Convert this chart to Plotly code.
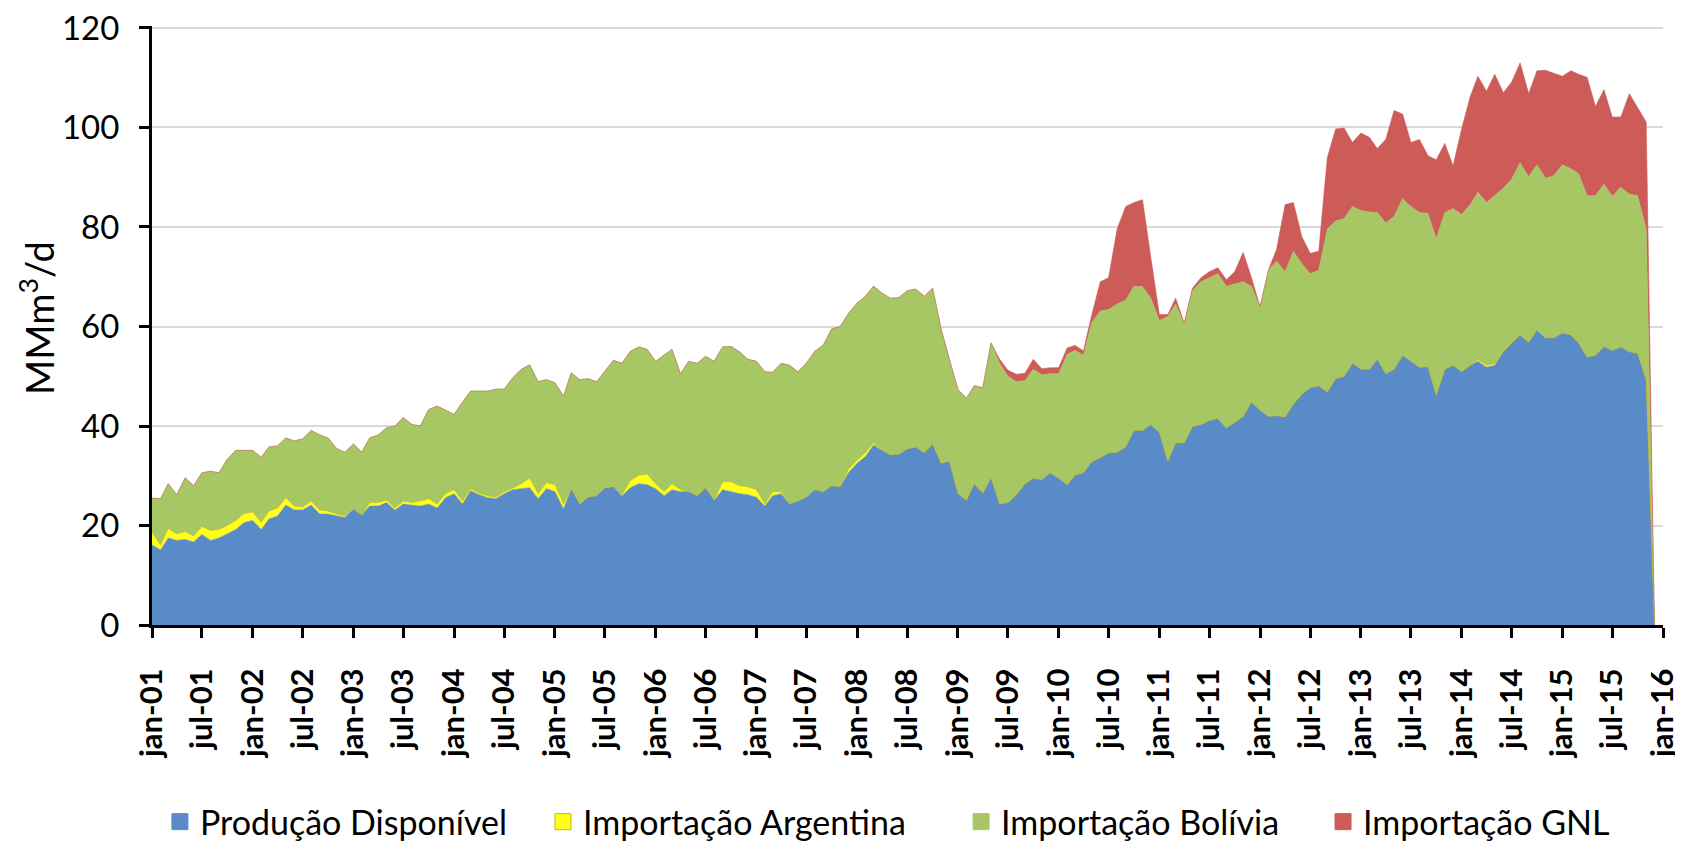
import pandas as pd
import plotly.graph_objects as go

# Monthly data, jan-01 .. dez-15 (MMm3/d)
MONTHS = pd.date_range("2001-01-01", periods=180, freq="MS")

PRODUCAO = [
    16.1, 15.1, 17.5, 17.0, 17.2, 16.7, 18.2, 17.0, 17.5, 18.3,
    19.2, 20.6, 21.0, 19.2, 21.3, 21.9, 24.1, 23.1, 23.1, 24.1,
    22.3, 22.3, 21.9, 21.6, 23.3, 22.1, 23.9, 23.9, 24.6, 23.1,
    24.3, 24.1, 23.9, 24.3, 23.5, 25.6, 26.4, 24.3, 27.0, 26.2,
    25.6, 25.4, 26.4, 27.2, 27.4, 27.6, 25.4, 27.4, 26.8, 23.3,
    27.4, 24.3, 25.7, 26.0, 27.6, 27.8, 26.0, 27.6, 28.4, 28.2,
    27.4, 26.0, 27.2, 26.8, 26.8, 26.0, 27.6, 25.1, 27.2, 26.8,
    26.4, 26.2, 25.7, 23.9, 26.0, 26.4, 24.3, 24.9, 25.7, 27.2,
    26.8, 28.0, 27.8, 30.6, 32.5, 33.9, 36.2, 35.1, 34.2, 34.3,
    35.4, 35.8, 34.6, 36.4, 32.5, 32.9, 26.4, 25.1, 28.4, 26.5,
    29.6, 24.3, 24.6, 26.2, 28.4, 29.5, 29.2, 30.6, 29.5, 28.2,
    30.1, 30.6, 32.8, 33.6, 34.6, 34.7, 35.8, 39.1, 39.1, 40.3,
    38.7, 32.9, 36.6, 36.6, 39.9, 40.3, 41.1, 41.5, 39.6, 40.7,
    41.9, 44.8, 43.2, 41.9, 42.1, 41.8, 44.4, 46.4, 47.7, 48.1,
    46.8, 49.5, 50.0, 52.6, 51.4, 51.4, 53.4, 50.5, 51.4, 54.2,
    53.0, 51.8, 51.9, 46.2, 51.4, 52.2, 50.9, 52.2, 53.0, 51.8,
    52.2, 54.9, 56.7, 58.3, 56.8, 59.3, 57.7, 57.7, 58.7, 58.3,
    56.7, 53.8, 54.2, 56.0, 55.2, 55.9, 54.9, 54.6, 49.3, 0.0,
]

ARGENTINA = [
    2.5, 1.0, 1.9, 1.3, 1.6, 1.2, 1.6, 2.0, 1.7, 1.7,
    1.8, 1.8, 1.7, 1.4, 1.6, 1.6, 1.5, 0.8, 0.6, 0.8,
    0.8, 0.6, 0.4, 0.3, 0.0, 0.0, 0.7, 0.7, 0.5, 0.4,
    0.6, 0.5, 1.0, 1.1, 0.8, 0.8, 0.8, 0.6, 0.4, 0.3,
    0.4, 0.3, 0.4, 0.3, 1.0, 1.9, 1.0, 1.2, 1.4, 1.0,
    0.0, 0.0, 0.0, 0.0, 0.0, 0.0, 0.2, 1.4, 1.7, 2.1,
    1.0, 0.8, 1.2, 0.4, 0.0, 0.0, 0.0, 0.0, 1.6, 2.0,
    1.6, 1.6, 1.5, 0.4, 0.8, 0.4, 0.0, 0.0, 0.0, 0.0,
    0.0, 0.0, 0.0, 0.7, 0.6, 0.8, 0.4, 0.0, 0.0, 0.0,
    0.0, 0.0, 0.0, 0.0, 0.0, 0.0, 0.0, 0.0, 0.0, 0.0,
    0.0, 0.0, 0.0, 0.0, 0.0, 0.0, 0.0, 0.0, 0.0, 0.0,
    0.0, 0.0, 0.0, 0.0, 0.0, 0.0, 0.0, 0.0, 0.0, 0.0,
    0.0, 0.0, 0.0, 0.0, 0.0, 0.0, 0.0, 0.0, 0.0, 0.0,
    0.0, 0.0, 0.0, 0.0, 0.0, 0.0, 0.0, 0.0, 0.0, 0.0,
    0.0, 0.0, 0.0, 0.0, 0.0, 0.0, 0.0, 0.0, 0.0, 0.0,
    0.0, 0.0, 0.0, 0.0, 0.0, 0.0, 0.0, 0.0, 0.3, 0.4,
    0.3, 0.0, 0.0, 0.0, 0.0, 0.0, 0.0, 0.0, 0.0, 0.0,
    0.0, 0.0, 0.0, 0.0, 0.0, 0.0, 0.0, 0.0, 0.0, 0.0,
]

BOLIVIA = [
    6.9, 9.3, 9.0, 7.9, 10.8, 10.1, 10.8, 11.9, 11.4, 13.3,
    14.1, 12.7, 12.4, 13.1, 12.9, 12.5, 12.0, 13.1, 13.7, 14.2,
    15.1, 14.7, 13.2, 12.8, 13.1, 12.6, 13.0, 13.6, 14.5, 16.5,
    16.8, 15.7, 15.1, 17.9, 19.7, 16.8, 15.1, 19.9, 19.6, 20.5,
    21.0, 21.7, 20.6, 22.2, 23.0, 22.8, 22.5, 20.7, 20.5, 21.7,
    23.3, 25.0, 23.8, 22.9, 23.3, 25.4, 26.4, 26.0, 25.8, 25.1,
    24.6, 27.4, 27.0, 23.3, 26.2, 26.6, 26.4, 27.9, 27.1, 27.2,
    26.9, 25.6, 25.8, 26.6, 24.0, 25.8, 27.9, 26.0, 26.9, 27.8,
    29.5, 31.5, 32.2, 31.3, 31.6, 31.4, 31.5, 31.6, 31.5, 31.5,
    31.8, 31.7, 31.5, 31.3, 27.0, 20.5, 20.9, 20.5, 19.7, 21.2,
    27.1, 28.3, 25.4, 22.7, 20.7, 21.9, 21.1, 19.9, 21.0, 26.2,
    25.1, 23.6, 28.0, 29.5, 28.8, 29.8, 29.5, 29.0, 28.9, 25.4,
    22.5, 29.1, 27.9, 23.8, 27.3, 28.7, 28.7, 29.1, 28.5, 27.8,
    27.1, 23.3, 20.7, 29.5, 31.0, 29.2, 30.7, 26.2, 22.9, 23.2,
    32.8, 31.7, 31.7, 31.5, 31.9, 31.6, 29.5, 30.3, 30.7, 31.5,
    31.1, 31.1, 30.8, 31.4, 31.5, 31.5, 31.6, 32.3, 33.7, 32.7,
    33.8, 32.9, 32.9, 34.6, 33.3, 33.2, 32.1, 32.6, 33.8, 33.4,
    34.0, 32.5, 32.1, 32.6, 31.0, 32.1, 31.7, 31.7, 30.3, 0.0,
]

GNL = [0.0] * 101 + [
    0.8, 1.2, 1.5, 1.5, 2.0, 1.2, 1.2, 1.2, 1.3,
    1.0, 0.9, 1.5, 5.9, 6.4, 15.1, 18.8, 16.8, 17.5, 8.2,
    1.2, 0.4, 1.2, 0.3, 0.5, 0.8, 1.2, 1.2, 1.3, 2.5,
    5.9, 1.7, 0.1, 0.0, 2.4, 13.5, 9.8, 5.4, 4.1, 3.8,
    14.3, 18.5, 18.2, 12.9, 15.6, 15.0, 12.9, 16.8, 21.3, 17.0,
    12.9, 14.7, 11.6, 15.9, 13.9, 8.6, 17.2, 21.7, 23.3, 22.4,
    24.4, 19.2, 19.5, 20.1, 16.7, 18.9, 21.7, 20.6, 17.8, 19.7,
    20.0, 23.8, 17.9, 19.0, 15.9, 14.1, 20.2, 17.7, 21.5, 0.0,
]

SERIES_NAMES = ["Produção Disponível", "Importação Argentina",
                "Importação Bolívia", "Importação GNL"]
SERIES_COLORS = ["#5A8BC9", "#FFFF1A", "#A7C765", "#CD5B57"]
LINE_COLORS = ["#5A8BC9", "#C9B800", "#A7C765", "#CD5B57"]

TICK_DATES = pd.date_range("2001-01-01", "2016-01-01", freq="6MS")
TICK_LABELS = [
    "jan-01", "jul-01", "jan-02", "jul-02", "jan-03", "jul-03",
    "jan-04", "jul-04", "jan-05", "jul-05", "jan-06", "jul-06",
    "jan-07", "jul-07", "jan-08", "jul-08", "jan-09", "jul-09",
    "jan-10", "jul-10", "jan-11", "jul-11", "jan-12", "jul-12",
    "jan-13", "jul-13", "jan-14", "jul-14", "jan-15", "jul-15",
    "jan-16",
]
Y_TICKS = [0, 20, 40, 60, 80, 100, 120]

FONT = "Lato"
LEGEND_IDS = ["legend", "legend2", "legend3", "legend4"]
LEGEND_X = [0.0907, 0.3194, 0.5690, 0.7851]

fig = go.Figure()
for name, vals, fc, lc in zip(SERIES_NAMES,
                              [PRODUCAO, ARGENTINA, BOLIVIA, GNL],
                              SERIES_COLORS, LINE_COLORS):
    fig.add_trace(go.Scatter(
        x=MONTHS, y=vals, name=name, mode="lines",
        stackgroup="one", fillcolor=fc,
        line=dict(width=0.6, color=lc),
        showlegend=False,
    ))

# legend entries with square swatches, one legend per entry
for name, fc, lc, lid in zip(SERIES_NAMES, SERIES_COLORS, LINE_COLORS,
                             LEGEND_IDS):
    fig.add_trace(go.Scatter(
        x=[None], y=[None], name=name, mode="markers",
        marker=dict(symbol="square", size=18, color=fc,
                    line=dict(width=1, color=lc)),
        showlegend=True, legend=lid,
    ))

legend_common = dict(
    orientation="h", xref="container", yref="container",
    xanchor="left", y=0.0251, yanchor="middle",
    font=dict(family=FONT, size=34, color="black"),
    bgcolor="rgba(0,0,0,0)", borderwidth=0,
)
legend_layout = {lid: dict(legend_common, x=lx)
                 for lid, lx in zip(LEGEND_IDS, LEGEND_X)}

fig.update_layout(
    width=1675, height=835,
    margin=dict(l=144, r=20, t=18, b=218),
    paper_bgcolor="white", plot_bgcolor="white",
    font=dict(family=FONT, color="black"),
    showlegend=True,
    **legend_layout,
    xaxis=dict(
        type="date", automargin=False,
        range=["2001-01-01", "2016-01-01"],
        tickmode="array", tickvals=TICK_DATES, ticktext=TICK_LABELS,
        tickangle=-90,
        tickfont=dict(family=FONT, size=31, color="black", weight="bold"),
        ticks="outside", ticklen=10, tickwidth=3, tickcolor="black",
        showline=True, linecolor="black", linewidth=3,
        showgrid=False, zeroline=False,
        ticklabelstandoff=18,
        ticklabeloverflow="allow",
    ),
    yaxis=dict(
        range=[0, 120.4], automargin=False,
        tickmode="array", tickvals=Y_TICKS,
        tickfont=dict(family=FONT, size=33, color="black"),
        ticks="outside", ticklen=10, tickwidth=3, tickcolor="black",
        showline=True, linecolor="black", linewidth=3,
        showgrid=True, gridcolor="#D9D9D9", gridwidth=1.5,
        zeroline=False,
        ticklabelstandoff=13,
        ticklabeloverflow="allow",
    ),
    annotations=[dict(
        text="MMm<sup>3</sup>/d", xref="paper", yref="paper",
        x=-0.0761, y=0.5126, xanchor="center", yanchor="middle",
        textangle=-90, showarrow=False,
        font=dict(family=FONT, size=38, color="black"),
    )],
)

fig.write_html("out.html")
